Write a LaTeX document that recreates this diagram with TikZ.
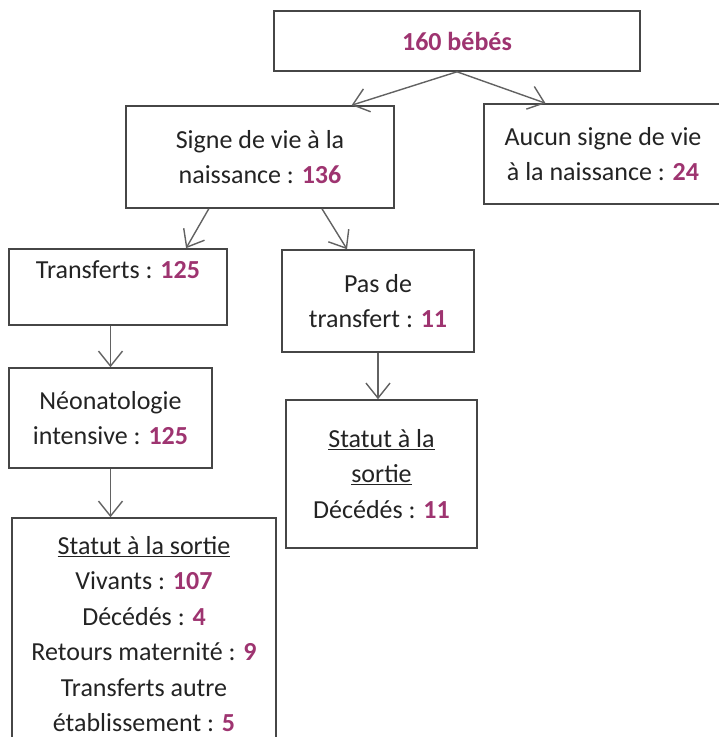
\documentclass[tikz,border=0pt]{standalone}
\usepackage{fontspec}
\setmainfont{Carlito}
\usetikzlibrary{arrows.meta,calc}
\definecolor{numcol}{RGB}{158,52,112}
\definecolor{boxline}{RGB}{70,70,70}
\definecolor{txtcol}{RGB}{35,35,35}
\newcommand{\nb}[1]{\textbf{\color{numcol}#1}}
\begin{document}
\begin{tikzpicture}[x=1pt, y=-1pt,
  box/.style={draw=boxline, line width=1.6pt, align=center, inner sep=0pt, text=txtcol,
    font=\fontsize{26}{35.5}\selectfont},
  link/.style={-{Straight Barb[length=15pt,width=24pt,line width=1.4pt]}, draw=boxline!85, line width=1.4pt}]
  \useasboundingbox (0,0) rectangle (719,737);
  % Root
  \node[box, minimum width=366, minimum height=60] (root) at (457,41) {\nb{160 bébés}};
  % First split
  \node[box, minimum width=268, minimum height=102] (live) at (260,157) {Signe de vie à la\\ naissance : \nb{136}};
  \node[box, minimum width=238, minimum height=100] (nolife) at (603,154) {Aucun signe de vie\\ à la naissance : \nb{24}};
  % Second split
  \node[box, minimum width=218, minimum height=76] (transf) at (118,287) {Transferts : \nb{125}\\ ~};
  \node[box, minimum width=192, minimum height=102] (notransf) at (378,301) {Pas de\\ transfert : \nb{11}};
  % Left branch
  \node[box, minimum width=203, minimum height=100] (neonat) at (110.5,418) {Néonatologie\\ intensive : \nb{125}};
  \node[box, minimum width=264, minimum height=232] (exitL) at (144,634) {\underline{Statut à la sortie}\\ Vivants : \nb{107}\\ Décédés : \nb{4}\\ Retours maternité : \nb{9}\\ Transferts autre\\ établissement : \nb{5}};
  % Right branch
  \node[box, minimum width=191, minimum height=148] (exitR) at (381.5,474) {\underline{Statut à la}\\ \underline{sortie}\\ Décédés : \nb{11}};
  % Connectors
  \draw[link] (root.south) -- ($(live.north west)!0.84!(live.north east)$);
  \draw[link] (root.south) -- ($(nolife.north west)!0.26!(nolife.north east)$);
  \draw[link] ($(live.south west)!0.31!(live.south east)$) -- ($(transf.north west)!0.81!(transf.north east)$);
  \draw[link] ($(live.south west)!0.73!(live.south east)$) -- ($(notransf.north west)!0.34!(notransf.north east)$);
  \draw[link] (neonat.north |- transf.south) -- (neonat.north);
  \draw[link] (neonat.south) -- (neonat.south |- exitL.north);
  \draw[link] (notransf.south) -- (notransf.south |- exitR.north);
\end{tikzpicture}
\end{document}
